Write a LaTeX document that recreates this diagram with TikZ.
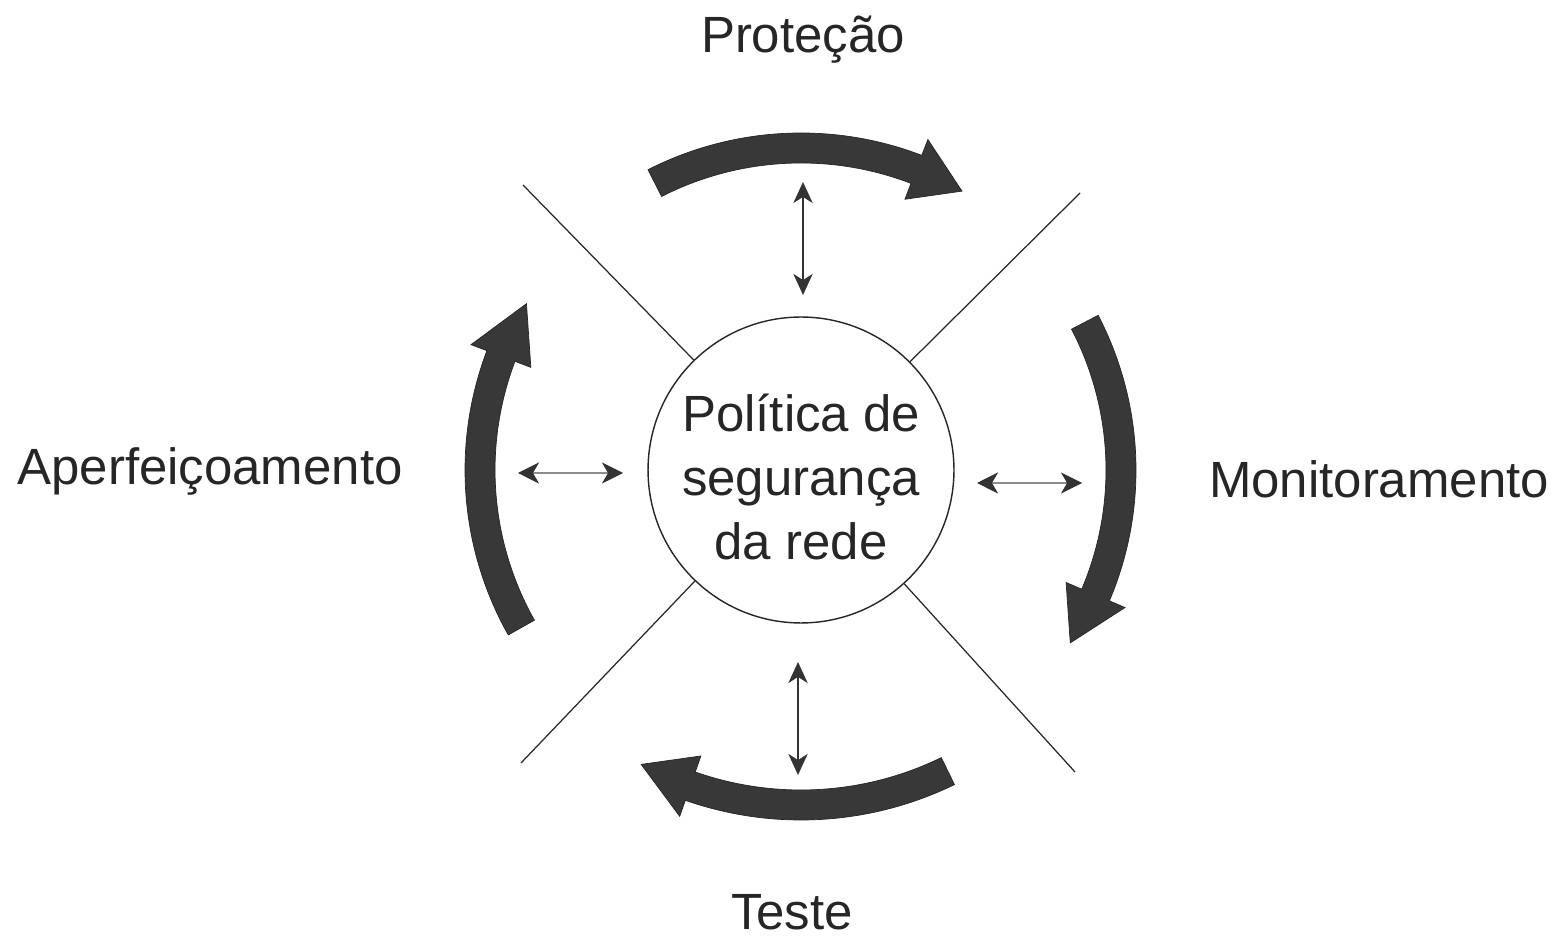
\documentclass[tikz,border=0pt]{standalone}
\usepackage{fontspec}
\setmainfont{Liberation Sans}
\usetikzlibrary{arrows.meta}
\newcommand\fatarrow[4]{%
  \pgfmathsetmacro\fro{#4+15}%
  \pgfmathsetmacro\fri{#4-15}%
  \pgfmathsetmacro\fho{#4+32}%
  \pgfmathsetmacro\fhi{#4-32}%
  \fill[fat, shift={(C)}] (#1:\fro) arc[start angle=#1, end angle=#2, radius=\fro]
    -- (#2:\fho) -- (#3:#4) -- (#2:\fhi) -- (#2:\fri)
    arc[start angle=#2, end angle=#1, radius=\fri] -- cycle;}
\begin{document}
\begin{tikzpicture}[x=0.02cm,y=0.02cm,
  lbl/.style={font=\fontsize{29}{36.3}\selectfont, inner sep=0, anchor=base, text=black!85},
  fat/.style={fill=black!78, draw=black!85, line width=0.4pt},
  sepline/.style={draw=black!85, line width=0.7pt},
  dblv/.style={line width=0.9pt, draw=black!80,
    {Stealth[length=12pt,width=11pt,inset=3.5pt]}-{Stealth[length=12pt,width=11pt,inset=3.5pt]}},
  dblh/.style={line width=0.6pt, draw=black!45,
    {Stealth[length=12pt,width=12pt,inset=3.5pt,color=black!80]}-{Stealth[length=12pt,width=12pt,inset=3.5pt,color=black!80]}},
  ]
\useasboundingbox (0,0) rectangle (1558,940);
\fill[white] (0,0) rectangle (1558,940);
\coordinate (C) at (801,470);
\node[circle, draw=black!85, line width=0.8pt, minimum size=6.12cm, inner sep=0] (pol) at (C) {};
\node[lbl, anchor=center, align=center] (poltxt) at (801,463) {Política de\\segurança\\da rede};

\node[lbl] (prot) at (803,887) {Proteção};
\node[lbl] (aperf) at (210,455) {Aperfeiçoamento};
\node[lbl] (monit) at (1379,442) {Monitoramento};
\node[lbl] (teste) at (792,11) {Teste};

\coordinate (nw) at (523,755);
\coordinate (ne) at (1080,747);
\coordinate (sw) at (521,177);
\coordinate (se) at (1075,168);
\draw[sepline] (nw) -- (pol);
\draw[sepline] (ne) -- (pol);
\draw[sepline] (sw) -- (pol);
\draw[sepline] (se) -- (pol);

\fatarrow{117}{69}{60}{322}
\fatarrow{27.5}{-23}{-32.7}{320}
\fatarrow{-64}{-109.3}{-118.5}{335}
\fatarrow{209.4}{159.2}{148.8}{321}

\coordinate (tva) at (803,758);
\coordinate (tvb) at (803,645);
\coordinate (bva) at (798,278);
\coordinate (bvb) at (798,165);
\coordinate (lha) at (518,467);
\coordinate (lhb) at (623,467);
\coordinate (rha) at (977,457);
\coordinate (rhb) at (1082,457);
\draw[dblv] (tva) -- (tvb);
\draw[dblv] (bva) -- (bvb);
\draw[dblh] (lha) -- (lhb);
\draw[dblh] (rha) -- (rhb);
\end{tikzpicture}
\end{document}
